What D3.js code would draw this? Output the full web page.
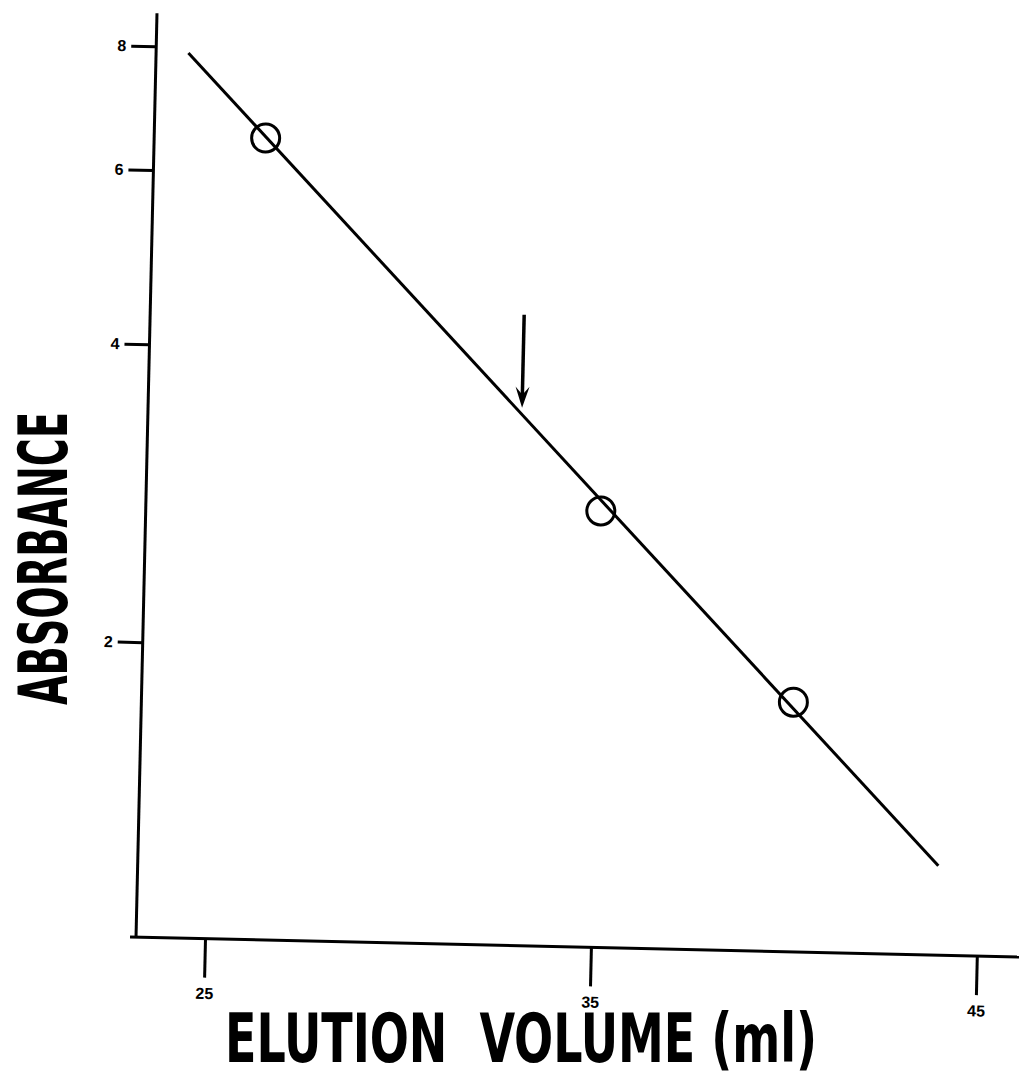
<!DOCTYPE html>
<html>
<head>
<meta charset="utf-8">
<script src="https://cdn.jsdelivr.net/npm/d3@7"></script>
<style>
    body { margin: 0; background: #fff; }
    #chart { width: 1019px; height: 1083px; }
    .axis path { display: none; }
    .axis line { stroke: #000; stroke-width: 3; }
    .axis text { font-family: "Liberation Sans", Arial, sans-serif; font-weight: bold; font-size: 16px; fill: #000; }
    .title { font-family: "DejaVu Sans Condensed", "DejaVu Sans", sans-serif; font-weight: bold; fill: #000; white-space: pre; }
</style>
</head>
<body>
<div id="chart"></div>
<script>

// measured points (elution volume in ml, absorbance)
const elutionVolume = [26.1, 35.0, 40.1];
const absorbance = [6.5, 2.78, 1.80];

// fitted line end points
const fitVolume = [24.05, 43.95];
const fitAbsorbance = [7.89, 1.24];

// arrow marker
const arrowVolume = 32.9;
const arrowAbsorbance = [4.37, 3.52];

const xTicks = [25, 35, 45];
const yTicks = [2, 4, 6, 8];

class ElutionChart {

    constructor(parentElement) {
        this.parentElement = parentElement;
    }

    initVis() {
        let vis = this;

        vis.width = 1019;
        vis.height = 1083;

        vis.svg = d3.select("#" + vis.parentElement).append("svg")
            .attr("width", vis.width)
            .attr("height", vis.height);

        // the scanned plot sits slightly tilted
        vis.origin = {x: 133, y: 938};
        vis.plot = vis.svg.append("g")
            .attr("transform", "rotate(1.3," + vis.origin.x + "," + vis.origin.y + ")");

        vis.x = d3.scaleLinear()
            .domain([25, 45])
            .range([205, 977]);

        vis.y = d3.scaleLog()
            .domain([2, 8])
            .range([642, 46]);

        vis.axisX = 136;
        vis.axisY = 937;

        vis.xAxis = d3.axisBottom(vis.x)
            .tickValues(xTicks)
            .tickSize(39)
            .tickPadding(10)
            .tickFormat(d => d);

        vis.yAxis = d3.axisLeft(vis.y)
            .tickValues(yTicks)
            .tickSize(25)
            .tickPadding(5)
            .tickFormat(d => d);

        vis.wrangleData();
    }

    wrangleData() {
        let vis = this;

        vis.points = elutionVolume.map((v, i) => ({vol: v, abs: absorbance[i]}));
        vis.fit = fitVolume.map((v, i) => ({vol: v, abs: fitAbsorbance[i]}));

        vis.updateVis();
    }

    updateVis() {
        let vis = this;

        // axis lines
        vis.plot.append("line")
            .attr("x1", vis.axisX).attr("x2", vis.axisX)
            .attr("y1", 13).attr("y2", vis.origin.y)
            .attr("stroke", "#000").attr("stroke-width", 3);

        vis.plot.append("line")
            .attr("x1", vis.origin.x - 3).attr("x2", 1040)
            .attr("y1", vis.axisY).attr("y2", vis.axisY)
            .attr("stroke", "#000").attr("stroke-width", 3);

        vis.plot.append("g")
            .attr("class", "x-axis axis")
            .attr("transform", "translate(0," + vis.axisY + ")")
            .call(vis.xAxis);

        vis.plot.append("g")
            .attr("class", "y-axis axis")
            .attr("transform", "translate(" + vis.axisX + ",0)")
            .call(vis.yAxis);

        // fitted line
        vis.plot.append("path")
            .datum(vis.fit)
            .attr("fill", "none")
            .attr("stroke", "#000")
            .attr("stroke-width", 3)
            .attr("d", d3.line()
                .x(d => vis.x(d.vol))
                .y(d => vis.y(d.abs)));

        // open circles
        vis.plot.selectAll(".pt")
            .data(vis.points)
            .enter().append("circle")
            .attr("class", "pt")
            .attr("cx", d => vis.x(d.vol))
            .attr("cy", d => vis.y(d.abs))
            .attr("r", 14)
            .attr("fill", "none")
            .attr("stroke", "#000")
            .attr("stroke-width", 3);

        // arrow
        let ax = vis.x(arrowVolume);
        let yTop = vis.y(arrowAbsorbance[0]);
        let yTip = vis.y(arrowAbsorbance[1]);

        vis.plot.append("line")
            .attr("x1", ax).attr("x2", ax)
            .attr("y1", yTop).attr("y2", yTip - 8)
            .attr("stroke", "#000")
            .attr("stroke-width", 3.5);

        vis.plot.append("path")
            .attr("d", "M" + ax + "," + yTip
                + "L" + (ax - 7) + "," + (yTip - 21)
                + "L" + ax + "," + (yTip - 13)
                + "L" + (ax + 7) + "," + (yTip - 21) + "Z")
            .attr("fill", "#000");

        // axis titles
        vis.svg.append("text")
            .attr("class", "title")
            .attr("x", 225)
            .attr("y", 1062)
            .attr("font-size", 67)
            .attr("textLength", 592)
            .attr("lengthAdjust", "spacingAndGlyphs")
            .text("ELUTION  VOLUME (ml)");

        vis.svg.append("text")
            .attr("class", "title")
            .attr("transform", "translate(67,705) rotate(-90)")
            .attr("x", 0)
            .attr("y", 0)
            .attr("font-size", 68)
            .attr("textLength", 293)
            .attr("lengthAdjust", "spacingAndGlyphs")
            .text("ABSORBANCE");
    }
}

let chart = new ElutionChart("chart");
chart.initVis();

</script>
</body>
</html>
